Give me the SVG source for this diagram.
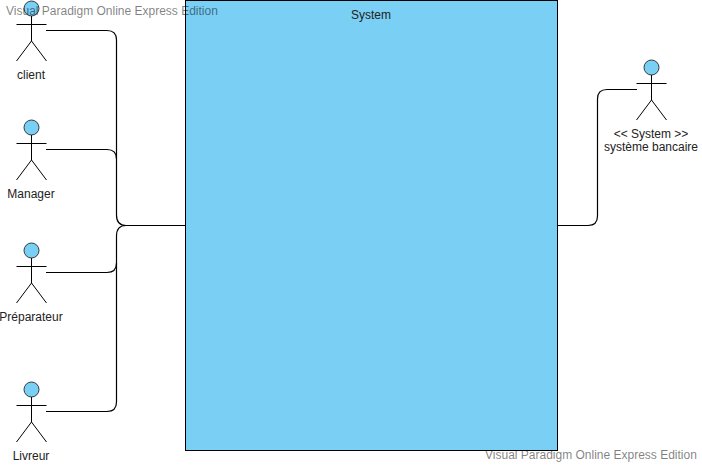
<svg xmlns="http://www.w3.org/2000/svg" width="702" height="466" viewBox="0 0 702 466">
<style>
text{font-family:"Liberation Sans",Arial,sans-serif;font-size:12px;fill:#222;text-anchor:middle}
.wm{font-size:12px;fill:#000;fill-opacity:.5;text-anchor:start}
.a{fill:none;stroke:#000;stroke-width:1}
.h{fill:#7ACFF5;stroke:#36393d;stroke-width:1}
.c{fill:none;stroke:#000;stroke-width:1.2}
</style>
<defs>
<g id="actor">
<circle class="h" cx="0" cy="7.500" r="7.500"/>
<path class="a" d="M0 15V40M-15 23.500H15M0 40L-15 60M0 40L15 60"/>
</g>
</defs>
<rect width="702" height="466" fill="#fff"/>
<g id="system">
<rect x="185.500" y="0.500" width="372" height="450" fill="#7ACFF5" stroke="#000"/>
<text x="371" y="19">System</text>
</g>
<g id="connectors">
<path class="c" d="M46 30.500H107Q116.500 30.500 116.500 40V215Q116.500 225.500 126 225.500"/>
<path class="c" d="M46 149.500H107Q116.500 149.500 116.500 159"/>
<path class="c" d="M46 272.500H107Q116.500 272.500 116.500 263"/>
<path class="c" d="M46 411.500H107Q116.500 411.500 116.500 402V236Q116.500 225.500 126 225.500"/>
<path class="c" d="M124 225.500H185"/>
<path class="c" d="M557 225.500H588Q597.500 225.500 597.500 216V99Q597.500 89.500 607 89.500H637"/>
</g>
<g id="client"><use href="#actor" x="31.500" y="1"/><text x="31" y="79">client</text></g>
<g id="manager"><use href="#actor" x="31.500" y="120"/><text x="31" y="198">Manager</text></g>
<g id="preparateur"><use href="#actor" x="31.500" y="243"/><text x="31" y="321">Préparateur</text></g>
<g id="livreur"><use href="#actor" x="31.500" y="382"/><text x="31" y="460">Livreur</text></g>
<g id="banque"><use href="#actor" x="651.500" y="60"/><text x="651" y="138">&lt;&lt; System &gt;&gt;</text><text x="651" y="151">système bancaire</text></g>
<g id="watermarks">
<text class="wm" x="6" y="15">Visual Paradigm Online Express Edition</text>
<text class="wm" x="485" y="459">Visual Paradigm Online Express Edition</text>
</g>
</svg>
